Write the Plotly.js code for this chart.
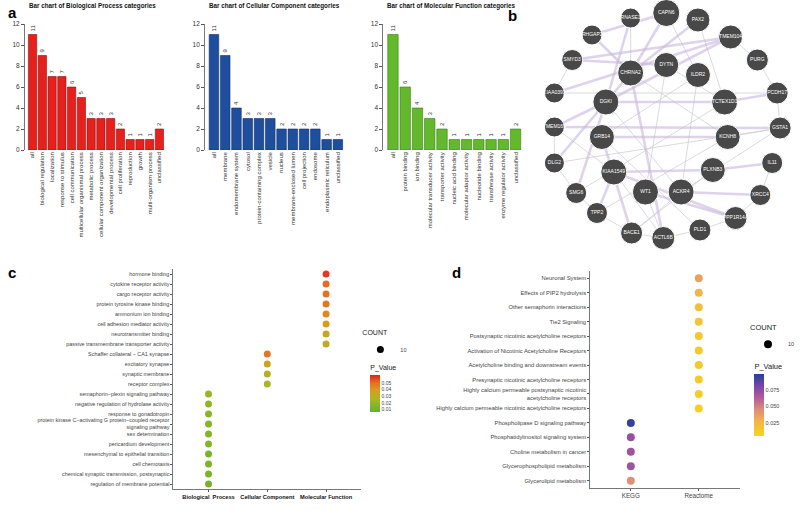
<!DOCTYPE html>
<html>
<head>
<meta charset="utf-8">
<script src="https://cdn.plot.ly/plotly-3.0.1.min.js"></script>
<style>body{margin:0;background:#fff}</style>
</head>
<body>
<div id="chart" style="width:800px;height:511px"></div>
<script>
// ---- panel a : GO bar charts ----
const bpCats = ['all','biological regulation','localization','response to stimulus','cell communication',
  'multicellular organismal process','metabolic process','cellular component organization',
  'developmental process','cell proliferation','reproduction','growth','multi-organism process','unclassified'];
const bpVals = [11,9,7,7,6,5,3,3,3,2,1,1,1,2];

const ccCats = ['all','membrane','endomembrane system','cytosol','protein-containing complex','vesicle',
  'nucleus','membrane-enclosed lumen','cell projection','endosome','endoplasmic reticulum','unclassified'];
const ccVals = [11,9,4,3,3,3,2,2,2,2,1,1];

const mfCats = ['all','protein binding','ion binding','molecular transducer activity','transporter activity',
  'nucleic acid binding','molecular adaptor activity','nucleotide binding','transferase activity',
  'enzyme regulator activity','unclassified'];
const mfVals = [11,6,4,3,2,1,1,1,1,1,2];

// ---- panel b : network ----
const nodeNames = ['RNASE1','CAPN6','PAX2','ARHGAP28','TMEM104','SMYD3','PURG','DYTN','CHRNA2','ILDR2',
  'KIAA0391','DGKI','TCTEX1D1','PCDH17','TMEM169','GRB14','KCNH8','GSTA1','DLG2','KIAA1549','PLXNB3',
  'IL11','SMG6','WT1','ACKR4','XRCC4','TPP2','PPP1R14A','BACE1','ACTL6B','PLD1'];
const nodeX = [637,673,705,598,738,578,765,673,637,705,560,612,732,785,560,608,735,788,560,620,720,
  780,582,652,688,768,603,743,638,670,707];
const nodeY = [18,13,20,35,37,60,60,65,73,75,93,102,102,93,127,137,137,128,163,172,170,163,193,192,192,
  195,213,218,233,238,230];
const nodeSize = [20,27,24,20,24,21,22,25,26,25,20,26,26,22,20,25,25,22,20,26,25,21,21,26,26,21,21,23,22,23,22];
const thickEdges = [['SMYD3','TMEM104'],['CHRNA2','CAPN6'],['CHRNA2','PAX2'],['DGKI','TMEM104'],
  ['TCTEX1D1','PCDH17'],['TMEM169','GSTA1'],['GRB14','KCNH8'],['DGKI','TCTEX1D1'],['KIAA1549','PLXNB3'],
  ['ACKR4','XRCC4'],['PLXNB3','IL11'],['WT1','PPP1R14A'],['KIAA1549','PPP1R14A'],['DLG2','CHRNA2'],
  ['TMEM169','DGKI'],['SMG6','DGKI'],['BACE1','GRB14'],['ACTL6B','CHRNA2'],['TPP2','KIAA1549'],
  ['SMYD3','DYTN'],['ARHGAP28','CHRNA2'],['RNASE1','DGKI'],['KIAA0391','TMEM104'],['ARHGAP28','CAPN6']];
const thinEdges = [['RNASE1','CHRNA2'],['CAPN6','ILDR2'],['PAX2','TCTEX1D1'],['TMEM104','PURG'],
  ['PURG','PCDH17'],['PCDH17','GSTA1'],['GSTA1','KCNH8'],['IL11','XRCC4'],['XRCC4','PPP1R14A'],
  ['PPP1R14A','PLD1'],['PLD1','ACTL6B'],['ACTL6B','BACE1'],['BACE1','TPP2'],['TPP2','SMG6'],
  ['SMG6','DLG2'],['DLG2','TMEM169'],['KIAA0391','SMYD3'],['WT1','ACTL6B'],['ACKR4','BACE1'],
  ['ILDR2','ACKR4'],['DYTN','WT1'],['GRB14','PLD1'],['KIAA1549','ACTL6B'],['DGKI','ACKR4'],
  ['TCTEX1D1','SMG6'],['KCNH8','TPP2'],['GSTA1','DLG2'],['ILDR2','GRB14'],['PLXNB3','BACE1'],
  ['CHRNA2','KCNH8'],['DYTN','TCTEX1D1'],['ACKR4','GSTA1'],['KIAA0391','PCDH17'],['TMEM169','KIAA1549']];

// ---- panel c : GO enrichment dot plot ----
const goTerms = ['hormone binding','cytokine receptor activity','cargo receptor activity',
  'protein tyrosine kinase binding','ammonium ion binding','cell adhesion mediator activity',
  'neurotransmitter binding','passive transmembrane transporter activity',
  'Schaffer collateral − CA1 synapse','excitatory synapse','synaptic membrane','receptor complex',
  'semaphorin−plexin signaling pathway','negative regulation of hydrolase activity',
  'response to gonadotropin','protein kinase C−activating G protein−coupled receptor<br>signaling pathway',
  'sex determination','pericardium development','mesenchymal to epithelial transition',
  'cell chemotaxis','chemical synaptic transmission, postsynaptic','regulation of membrane potential'];
const goClass = ['MF','MF','MF','MF','MF','MF','MF','MF','CC','CC','CC','CC',
  'BP','BP','BP','BP','BP','BP','BP','BP','BP','BP'];
const goP = [0.058,0.051,0.049,0.048,0.044,0.038,0.034,0.031,0.048,0.036,0.029,0.026,
  0.021,0.019,0.017,0.016,0.015,0.015,0.014,0.014,0.013,0.012];
const goClassOrder = ['BP','CC','MF'];
const goClassLabels = ['Biological  Process','Cellular Component','Molecular Function'];

// ---- panel d : pathway dot plot ----
const pwTerms = ['Neuronal System','Effects of PIP2 hydrolysis','Other semaphorin interactions',
  'Tie2 Signaling','Postsynaptic nicotinic acetylcholine receptors',
  'Activation of Nicotinic Acetylcholine Receptors','Acetylcholine binding and downstream events',
  'Presynaptic nicotinic acetylcholine receptors',
  'Highly calcium permeable postsynaptic nicotinic<br>acetylcholine receptors',
  'Highly calcium permeable nicotinic acetylcholine receptors',
  'Phospholipase D signaling pathway','Phosphatidylinositol signaling system',
  'Choline metabolism in cancer','Glycerophospholipid metabolism','Glycerolipid metabolism'];
const pwDb = ['Reactome','Reactome','Reactome','Reactome','Reactome','Reactome','Reactome','Reactome',
  'Reactome','Reactome','KEGG','KEGG','KEGG','KEGG','KEGG'];
const pwP = [0.036,0.027,0.02,0.017,0.015,0.014,0.014,0.013,0.012,0.011,0.095,0.071,0.069,0.069,0.043];
const pwDbOrder = ['KEGG','Reactome'];

// pixel helpers for the 800x511 canvas
const W = 800, H = 511;
const fx = p => p / W;
const fy = p => 1 - p / H;
const FONT = 'Liberation Sans, Arial, sans-serif';

function barTrace(cats, vals, color, line, ax) {
  return {
    type: 'bar', x: cats, y: vals, xaxis: 'x' + ax, yaxis: 'y' + ax,
    marker: {color: color, line: {color: line, width: 0.6}},
    text: vals.map(String), textposition: 'outside', textangle: -90,
    textfont: {size: 6, color: '#333'}, cliponaxis: false, showlegend: false, hoverinfo: 'x+y'
  };
}

function edgeTrace(edges, color, width) {
  const xs = [], ys = [];
  edges.forEach(([a, b]) => {
    const i = nodeNames.indexOf(a), j = nodeNames.indexOf(b);
    xs.push(nodeX[i], nodeX[j], null);
    ys.push(nodeY[i], nodeY[j], null);
  });
  return {type: 'scatter', mode: 'lines', x: xs, y: ys, xaxis: 'x6', yaxis: 'y6',
    line: {color: color, width: width}, hoverinfo: 'skip', showlegend: false};
}

const goScale = [[0, '#62b22f'], [0.35, '#a8b823'], [0.6, '#dd9a1c'], [0.8, '#e86a22'], [1, '#e3201c']];
const pwScale = [[0, '#f7d716'], [0.25, '#f2b24c'], [0.45, '#d9877e'], [0.62, '#b25a9a'],
  [0.8, '#7a46a8'], [1, '#23409c']];

const traces = [
  barTrace(bpCats, bpVals, '#e5201d', '#8a1111', ''),
  barTrace(ccCats, ccVals, '#1f4e9f', '#11306a', '2'),
  barTrace(mfCats, mfVals, '#63b82c', '#3d7a19', '3'),
  edgeTrace(thinEdges, 'rgba(205,205,212,0.75)', 1),
  edgeTrace(thickEdges, 'rgba(200,182,222,0.6)', 2.6),
  {
    type: 'scatter', mode: 'markers+text', x: nodeX, y: nodeY, xaxis: 'x6', yaxis: 'y6',
    text: nodeNames, textposition: 'middle center', textfont: {size: 5, color: '#ffffff'},
    marker: {size: nodeSize, color: '#484848', opacity: 1, line: {color: '#ffffff', width: 1}},
    hoverinfo: 'text', showlegend: false
  },
  {
    type: 'scatter', mode: 'markers', x: goClass, y: goTerms, xaxis: 'x4', yaxis: 'y4',
    marker: {size: 7, color: goP, colorscale: goScale, cmin: 0.006, cmax: 0.062,
      colorbar: {x: fx(374), xanchor: 'left', y: fy(362), yanchor: 'top', len: 50, lenmode: 'pixels',
        thickness: 10, outlinewidth: 0, ticks: '', tickvals: [0.01, 0.02, 0.03, 0.04, 0.05],
        tickfont: {size: 5, color: '#444'}, xpad: 0, ypad: 0,
        title: {text: 'P_Value', side: 'top', font: {size: 7, color: '#222'}}}},
    showlegend: false
  },
  {
    type: 'scatter', mode: 'markers', x: [null], y: [null], xaxis: 'x4', yaxis: 'y4',
    name: '10', marker: {size: 7, color: '#000'}, legend: 'legend', showlegend: true
  },
  {
    type: 'scatter', mode: 'markers', x: pwDb, y: pwTerms, xaxis: 'x5', yaxis: 'y5',
    marker: {size: 8, color: pwP, colorscale: pwScale, cmin: 0.005, cmax: 0.099,
      colorbar: {x: fx(762), xanchor: 'left', y: fy(360), yanchor: 'top', len: 76, lenmode: 'pixels',
        thickness: 10, outlinewidth: 0, ticks: '', tickvals: [0.025, 0.05, 0.075],
        ticktext: ['0.025', '0.050', '0.075'],
        tickfont: {size: 5.5, color: '#444'}, xpad: 0, ypad: 0,
        title: {text: 'P_Value', side: 'top', font: {size: 7.5, color: '#222'}}}},
    showlegend: false
  },
  {
    type: 'scatter', mode: 'markers', x: [null], y: [null], xaxis: 'x5', yaxis: 'y5',
    name: '10', marker: {size: 8, color: '#000'}, legend: 'legend2', showlegend: true
  }
];

function barAxes(x0, x1, n) {
  return [
    {domain: [fx(x0), fx(x1)], range: [-0.8, n - 0.5], anchor: 'y', tickangle: -90,
      tickfont: {size: 6, color: '#333'}, showline: false, ticks: '', showgrid: false, zeroline: false},
    {domain: [fy(150), fy(24)], range: [0, 12], dtick: 2, showline: true, linecolor: '#555', linewidth: 0.8,
      ticks: 'outside', ticklen: 3, tickcolor: '#555', tickfont: {size: 6.5, color: '#333'},
      showgrid: false, zeroline: false}
  ];
}
const [xa1, ya1] = barAxes(25, 166, bpCats.length);
const [xa2, ya2] = barAxes(207, 347, ccCats.length);
const [xa3, ya3] = barAxes(387, 527, mfCats.length);
xa2.anchor = 'y2'; ya2.anchor = 'x2';
xa3.anchor = 'y3'; ya3.anchor = 'x3';
ya1.anchor = 'x';

const titleFont = {size: 6.3, color: '#111', family: FONT};
function note(text, x, y, font, xanchor) {
  return {text: text, x: fx(x), y: fy(y), xref: 'paper', yref: 'paper', showarrow: false,
    xanchor: xanchor, yanchor: 'middle', font: font};
}
const labelFont = {size: 15, color: '#000'};
const layout = {
  width: W, height: H, margin: {l: 0, r: 0, t: 0, b: 0},
  paper_bgcolor: '#fff', plot_bgcolor: 'rgba(0,0,0,0)',
  font: {family: FONT, color: '#333'},
  bargap: 0.15,
  xaxis: xa1, yaxis: ya1, xaxis2: xa2, yaxis2: ya2, xaxis3: xa3, yaxis3: ya3,
  xaxis4: {domain: [fx(175), fx(365)], anchor: 'y4', type: 'category', categoryarray: goClassOrder,
    range: [-0.6, 2.6], tickvals: goClassOrder, ticktext: goClassLabels.map(t => '<b>' + t + '</b>'),
    tickangle: 0, tickfont: {size: 5.7, color: '#111'}, showline: true, linecolor: '#555', linewidth: 0.8,
    ticks: 'outside', ticklen: 2, tickcolor: '#555', showgrid: false, zeroline: false},
  yaxis4: {domain: [fy(489), fy(269)], anchor: 'x4', type: 'category', categoryarray: goTerms,
    range: [goTerms.length - 0.5, -0.5], tickfont: {size: 5.4, color: '#444'}, showline: true,
    linecolor: '#555', linewidth: 0.8, ticks: 'outside', ticklen: 2, tickcolor: '#555',
    showgrid: false, zeroline: false},
  xaxis5: {domain: [fx(596), fx(747)], anchor: 'y5', type: 'category', categoryarray: pwDbOrder,
    range: [-0.6, 1.6], tickangle: 0, tickfont: {size: 6.3, color: '#444'}, showline: true, linecolor: '#555',
    linewidth: 0.8, ticks: 'outside', ticklen: 2, tickcolor: '#555', showgrid: false, zeroline: false},
  yaxis5: {domain: [fy(488), fy(271)], anchor: 'x5', type: 'category', categoryarray: pwTerms,
    range: [pwTerms.length - 0.5, -0.5], tickfont: {size: 5.8, color: '#444'}, showline: true,
    linecolor: '#555', linewidth: 0.8, ticks: 'outside', ticklen: 2, tickcolor: '#555',
    showgrid: false, zeroline: false},
  xaxis6: {domain: [fx(530), fx(800)], range: [530, 800], anchor: 'y6', visible: false},
  yaxis6: {domain: [fy(255), fy(0)], range: [255, 0], anchor: 'x6', visible: false},
  legend: {x: fx(364), y: fy(326), xanchor: 'left', yanchor: 'top', bgcolor: 'rgba(0,0,0,0)',
    title: {text: 'COUNT', side: 'top', font: {size: 7, color: '#222'}}, font: {size: 5.5, color: '#444'},
    itemwidth: 30, tracegroupgap: 0},
  legend2: {x: fx(756), y: fy(320), xanchor: 'left', yanchor: 'top', bgcolor: 'rgba(0,0,0,0)',
    title: {text: 'COUNT', side: 'top', font: {size: 7.5, color: '#222'}}, font: {size: 5.5, color: '#444'},
    itemwidth: 30, tracegroupgap: 0},
  annotations: [
    note('<b>a</b>', 6, 13, labelFont, 'left'),
    note('<b>b</b>', 511, 15, labelFont, 'left'),
    note('<b>c</b>', 6, 272, labelFont, 'left'),
    note('<b>d</b>', 455, 272, labelFont, 'left'),
    note('<b>Bar chart of Biological Process categories</b>', 93, 6, titleFont, 'center'),
    note('<b>Bar chart of Cellular Component categories</b>', 277, 6, titleFont, 'center'),
    note('<b>Bar chart of Molecular Function categories</b>', 456, 6, titleFont, 'center')
  ]
};

Plotly.newPlot('chart', traces, layout, {displayModeBar: false, staticPlot: true});
</script>
</body>
</html>
